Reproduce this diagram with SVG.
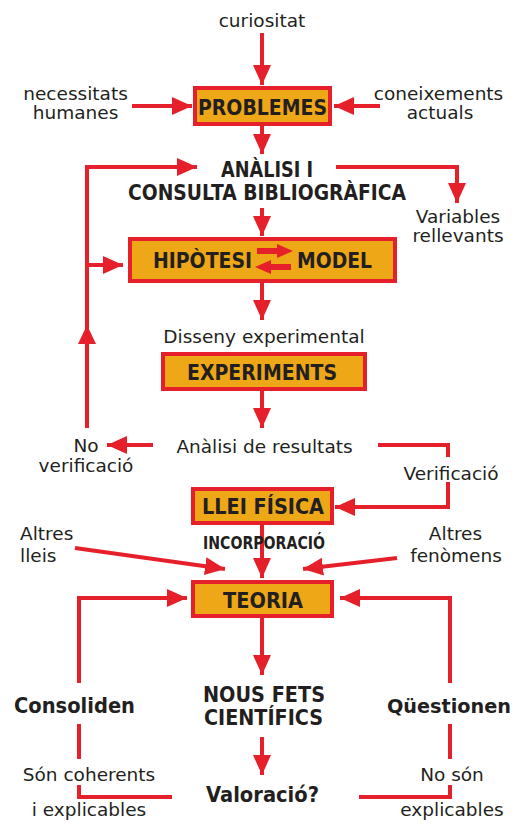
<svg xmlns="http://www.w3.org/2000/svg" width="517" height="824" viewBox="0 0 517 824">
<defs>
<style>
.t{font-family:"DejaVu Sans","Liberation Sans",sans-serif;font-size:18.5px;fill:#231F20;text-anchor:middle}
.b{font-family:"DejaVu Sans","Liberation Sans",sans-serif;font-weight:bold;fill:#231F20;text-anchor:middle}
.box{fill:#EEA716;stroke:#E5202A;stroke-width:4}
.c{fill:none;stroke:#E5202A;stroke-width:4}
.a{marker-end:url(#ah)}
</style>
<marker id="ah" markerUnits="userSpaceOnUse" markerWidth="20" markerHeight="18" refX="20" refY="9" orient="auto">
<path d="M0,0 L20,9 L0,18 z" fill="#E5202A"/>
</marker>
</defs>
<rect width="517" height="824" fill="#ffffff"/>
<g id="connectors">
<line class="c a" x1="262" y1="33" x2="262" y2="85"/>
<line class="c a" x1="132" y1="106" x2="192" y2="106"/>
<line class="c a" x1="380" y1="106" x2="334" y2="106"/>
<line class="c a" x1="262" y1="126" x2="262" y2="154"/>
<path class="c a" d="M87,428 L87,167 L197,167"/>
<polygon points="87,325 96,344 78,344" fill="#E5202A"/>
<line class="c a" x1="87" y1="265" x2="123" y2="265"/>
<path class="c a" d="M336,167 L457,167 L457,203"/>
<line class="c a" x1="262" y1="208" x2="262" y2="236"/>
<line class="c a" x1="262" y1="283" x2="262" y2="320"/>
<line class="c a" x1="262" y1="391" x2="262" y2="428"/>
<line class="c a" x1="153" y1="445" x2="107" y2="445"/>
<path class="c" d="M378,445 L448,445 L448,457"/>
<path class="c a" d="M448,482 L448,507 L335,507"/>
<line class="c a" x1="262" y1="525" x2="262" y2="578"/>
<line class="c a" x1="75" y1="548" x2="225" y2="569"/>
<line class="c a" x1="397" y1="558" x2="303" y2="569"/>
<path class="c a" d="M79,683 L79,598 L187,598"/>
<path class="c" d="M79,724 L79,759"/>
<path class="c" d="M79,785 L79,797 L172,797"/>
<path class="c" d="M359,797 L450,797 L450,785"/>
<path class="c" d="M450,759 L450,724"/>
<path class="c a" d="M450,683 L450,598 L340,598"/>
<line class="c a" x1="262" y1="618" x2="262" y2="675"/>
<line class="c a" x1="262" y1="737" x2="262" y2="775"/>
</g>
<g id="curiositat"><text class="t" x="262" y="27">curiositat</text></g>
<g id="necessitats"><text class="t" x="75.5" y="100">necessitats</text><text class="t" x="75.5" y="119">humanes</text></g>
<g id="coneixements"><text class="t" x="438.5" y="100">coneixements</text><text class="t" x="440" y="119">actuals</text></g>
<g id="problemes"><rect class="box" x="195" y="88" width="135" height="36"/><text class="b" x="262.5" y="115" font-size="22" textLength="129" lengthAdjust="spacingAndGlyphs">PROBLEMES</text></g>
<g id="analisi"><text class="b" x="267" y="177" font-size="21" textLength="92" lengthAdjust="spacingAndGlyphs">ANÀLISI I</text><text class="b" x="267" y="200" font-size="21" textLength="278" lengthAdjust="spacingAndGlyphs">CONSULTA BIBLIOGRÀFICA</text></g>
<g id="variables"><text class="t" x="458" y="223">Variables</text><text class="t" x="458" y="242">rellevants</text></g>
<g id="hipotesi"><rect class="box" x="130" y="239" width="265" height="42"/>
<text class="b" x="202.5" y="268" font-size="22" textLength="99" lengthAdjust="spacingAndGlyphs">HIPÒTESI</text>
<text class="b" x="334.5" y="268" font-size="22" textLength="75" lengthAdjust="spacingAndGlyphs">MODEL</text>
<path d="M257,248 L277,248 L277,244 L293,251 L277,258 L277,254 L257,254 z" fill="#E5202A"/>
<path d="M291,264 L271,264 L271,260 L255,267 L271,274 L271,270 L291,270 z" fill="#E5202A"/>
</g>
<g id="disseny"><text class="t" x="264" y="343">Disseny experimental</text></g>
<g id="experiments"><rect class="box" x="163" y="354" width="202" height="35"/><text class="b" x="262" y="380" font-size="22" textLength="150" lengthAdjust="spacingAndGlyphs">EXPERIMENTS</text></g>
<g id="resultats"><text class="t" x="264.5" y="453">Anàlisi de resultats</text></g>
<g id="noverificacio"><text class="t" x="86" y="452">No</text><text class="t" x="86" y="472">verificació</text></g>
<g id="verificacio"><text class="t" x="451" y="480">Verificació</text></g>
<g id="llei"><rect class="box" x="193" y="489" width="139" height="34"/><text class="b" x="263" y="514" font-size="21" textLength="122" lengthAdjust="spacingAndGlyphs">LLEI FÍSICA</text></g>
<g id="incorporacio"><text class="b" x="264" y="549" font-size="17" textLength="122" lengthAdjust="spacingAndGlyphs">INCORPORACIÓ</text></g>
<g id="altreslleis"><text class="t" x="20" y="540" style="text-anchor:start">Altres</text><text class="t" x="20" y="562" style="text-anchor:start">lleis</text></g>
<g id="altresfenomens"><text class="t" x="455.5" y="540">Altres</text><text class="t" x="456" y="562">fenòmens</text></g>
<g id="teoria"><rect class="box" x="193" y="582" width="139" height="34"/><text class="b" x="263" y="608" font-size="22" textLength="80" lengthAdjust="spacingAndGlyphs">TEORIA</text></g>
<g id="consoliden"><text class="b" x="74.5" y="713" font-size="22" textLength="121" lengthAdjust="spacingAndGlyphs">Consoliden</text></g>
<g id="questionen"><text class="b" x="449" y="713" font-size="19.5" textLength="124" lengthAdjust="spacingAndGlyphs">Qüestionen</text></g>
<g id="nousfets"><text class="b" x="264" y="702" font-size="21" textLength="122" lengthAdjust="spacingAndGlyphs">NOUS FETS</text><text class="b" x="263.5" y="725" font-size="21" textLength="119" lengthAdjust="spacingAndGlyphs">CIENTÍFICS</text></g>
<g id="coherents"><text class="t" x="89" y="781">Són coherents</text><text class="t" x="89" y="816">i explicables</text></g>
<g id="valoracio"><text class="b" x="262.5" y="802" font-size="21" textLength="113" lengthAdjust="spacingAndGlyphs">Valoració?</text></g>
<g id="noson"><text class="t" x="452" y="781">No són</text><text class="t" x="452" y="816">explicables</text></g>
</svg>
